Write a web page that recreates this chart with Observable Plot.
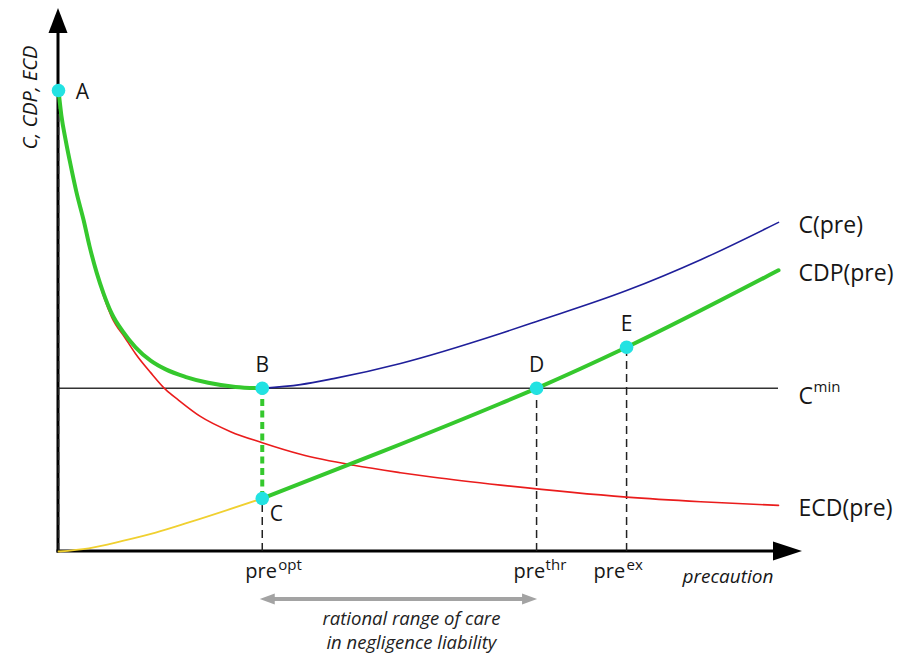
<!DOCTYPE html>
<html><head><meta charset="utf-8">
<script src="https://cdn.jsdelivr.net/npm/d3@7"></script>
<script src="https://cdn.jsdelivr.net/npm/@observablehq/plot@0.6"></script>
<style>
html,body{margin:0;padding:0;background:#fff;}
#chart svg{display:block;}
</style></head><body><div id="chart"></div>
<script>
// ---- key values (arbitrary units: precaution 0..100, cost 0..100) ----
const cMin = 35.4;
const preOpt = 28.3, preThr = 66.4, preEx = 78.9;

// ECD(pre): expected compensated damage
const ecdX = [0, 0.4, 1.0, 1.7, 2.5, 3.5, 4.3, 5.3, 6.25, 7.4, 9.3, 10.7, 12.8, 14.9, 16.7, 19.7, 23.9, 28.3, 33.6, 41.0, 47.5, 52.1, 61.4, 78.9, 89.2, 100];
const ecdY = [100, 94.6, 89.2, 83.7, 77.9, 71.4, 65.9, 60.3, 55.4, 50.8, 46.2, 42.9, 38.8, 35.1, 32.8, 29.3, 26.0, 23.6, 21.1, 18.7, 17.1, 16.1, 14.4, 11.8, 10.8, 10.0];

// C(pre): total cost (right of optimum)
const cX = [28.3, 33.6, 38.2, 47.5, 61.4, 66.4, 78.9, 89.2, 100];
const cY = [35.4, 36.2, 37.5, 40.8, 47.3, 49.9, 56.6, 63.3, 71.4];

// CDP(pre): left branch (A -> B)
const cdpLeftX = [0, 0.4, 1.0, 1.7, 2.5, 3.5, 4.3, 5.3, 6.25, 7.4, 8.9, 10.7, 12.8, 14.9, 17.6, 20.8, 24.6, 28.3];
const cdpLeftY = [100, 94.6, 89.2, 83.7, 77.9, 71.8, 66.3, 60.5, 56.0, 51.6, 47.8, 44.3, 41.4, 39.5, 37.9, 36.6, 35.7, 35.4];

// CDP(pre): right branch (C -> end)
const cdpRightX = [28.3, 45.0, 61.4, 66.4, 78.9, 100];
const cdpRightY = [11.5, 21.7, 32.1, 35.4, 44.3, 61.0];

// cost of precaution below optimum (yellow)
const lowX = [0, 4.2, 8.9, 13.5, 18.1, 28.3];
const lowY = [0, 0.7, 2.3, 4.1, 6.3, 11.5];

// marked points
const pointLabels = ["A", "B", "C", "D", "E"];
const pointX = [0, preOpt, preOpt, preThr, preEx];
const pointY = [100, cMin, 11.5, cMin, 44.3];

// texts
const curveLabels = ["C(pre)", "CDP(pre)", "ECD(pre)"];
const curveLabelY = [cY[cY.length - 1], cdpRightY[cdpRightY.length - 1], ecdY[ecdY.length - 1]];
const tickX = [preOpt, preThr, preEx];
const tickSup = ["opt", "thr", "ex"];
const xLabel = "precaution";
const yLabel = "C, CDP, ECD";
const rangeLines = ["rational range of care", "in negligence liability"];

const tbl = (xs, ys) => xs.map((x, i) => ({x, y: ys[i]}));

// colours
const GREEN = "#35c82d", BLUE = "#1f1f9a", RED = "#ea1c1c", YELLOW = "#f0d030", CYAN = "#22e2e2";
const INK = "#161616";
const FONT = "'Open Sans', sans-serif";

// layout offsets for the "pre" tick labels (base start / superscript start, px from tick)
const baseShift = [-17, -23, -33];
const supShift = [16, 9, 0];

function ornaments(index, scales) {
  const x0 = scales.x(0), y0 = scales.y(0);
  const g = d3.create("svg:g");
  g.append("line").attr("x1", x0).attr("x2", x0).attr("y1", y0 + 1.5).attr("y2", 28)
    .attr("stroke", "#000").attr("stroke-width", 3);
  g.append("path").attr("d", `M${x0},8L${x0 - 9.5},33L${x0 + 9.5},33Z`).attr("fill", "#000");
  g.append("line").attr("x1", x0 - 1.5).attr("x2", 780).attr("y1", y0).attr("y2", y0)
    .attr("stroke", "#000").attr("stroke-width", 3);
  g.append("path").attr("d", `M802,${y0}L773,${y0 - 9.5}L773,${y0 + 9.5}Z`).attr("fill", "#000");
  return g.node();
}

function rangeArrow(index, scales) {
  const xa = scales.x(preOpt) - 2, xb = scales.x(preThr) + 1, ya = scales.y(0) + 48;
  const g = d3.create("svg:g").attr("fill", "#a3a3a3").attr("stroke", "none");
  g.append("line").attr("x1", xa + 10).attr("x2", xb - 10).attr("y1", ya).attr("y2", ya)
    .attr("stroke", "#a3a3a3").attr("stroke-width", 4);
  g.append("path").attr("d", `M${xa},${ya}L${xa + 15},${ya - 5.5}L${xa + 15},${ya + 5.5}Z`);
  g.append("path").attr("d", `M${xb},${ya}L${xb - 15},${ya - 5.5}L${xb - 15},${ya + 5.5}Z`);
  return g.node();
}

const marks = [
  ornaments,
  Plot.ruleY([cMin], {x1: 0, x2: 100, stroke: "#333", strokeWidth: 1.5}),
  Plot.ruleX([0, 2, 3, 4], {x: i => pointX[i], y1: 0, y2: i => pointY[i], stroke: "#222", strokeWidth: 1.5, strokeDasharray: "8,5"}),
  Plot.line(tbl(ecdX, ecdY), {x: "x", y: "y", stroke: RED, strokeWidth: 1.6, curve: "monotone-x"}),
  Plot.line(tbl(lowX, lowY), {x: "x", y: "y", stroke: YELLOW, strokeWidth: 1.8, curve: "monotone-x"}),
  Plot.line(tbl(cX, cY), {x: "x", y: "y", stroke: BLUE, strokeWidth: 1.6, curve: "monotone-x"}),
  Plot.ruleX([preOpt], {y1: pointY[2], y2: cMin, stroke: GREEN, strokeWidth: 4, strokeDasharray: "7,4.5"}),
  Plot.line(tbl(cdpLeftX, cdpLeftY), {x: "x", y: "y", stroke: GREEN, strokeWidth: 4, curve: "monotone-x"}),
  Plot.line(tbl(cdpRightX, cdpRightY), {x: "x", y: "y", stroke: GREEN, strokeWidth: 4, curve: "monotone-x"}),
  Plot.dot(pointLabels, {x: (d, i) => pointX[i], y: (d, i) => pointY[i], r: 6.8, fill: CYAN, stroke: "none"}),
  Plot.text([0], {x: i => pointX[i], y: i => pointY[i], text: i => pointLabels[i], dx: 24, dy: 2, fontSize: 21, fill: INK}),
  Plot.text([1, 3, 4], {x: i => pointX[i], y: i => pointY[i], text: i => pointLabels[i], dy: -23, fontSize: 21, fill: INK}),
  Plot.text([2], {x: i => pointX[i], y: i => pointY[i], text: i => pointLabels[i], dx: 14, dy: 16, fontSize: 21, fill: INK}),
  Plot.text(curveLabels, {x: () => 100, y: (d, i) => curveLabelY[i], text: d => d, dx: 20, dy: 3, textAnchor: "start", fontSize: 23, fill: INK}),
  Plot.text(["C"], {x: () => 100, y: () => cMin, text: d => d, dx: 20, dy: 8, textAnchor: "start", fontSize: 23, fill: INK}),
  Plot.text(["min"], {x: () => 100, y: () => cMin, text: d => d, dx: 35, dy: 4, textAnchor: "start", lineAnchor: "bottom", fontSize: 15, fill: INK}),
  Plot.text([xLabel], {x: () => 100, y: () => 0, text: d => d, dx: -5, dy: 31, textAnchor: "end", lineAnchor: "bottom", fontSize: 19, fontStyle: "italic", fill: INK}),
  Plot.text([yLabel], {frameAnchor: "top-left", text: d => d, dx: -36, dy: 7, rotate: -90, textAnchor: "middle", fontSize: 20, fontStyle: "italic", fill: INK}),
  rangeArrow,
  Plot.text([rangeLines[0]], {x: () => (preOpt + preThr) / 2, y: () => 0, text: d => d, dx: 12, dy: 73, lineAnchor: "bottom", fontSize: 18.5, fontStyle: "italic", fill: "#222"}),
  Plot.text([rangeLines[1]], {x: () => (preOpt + preThr) / 2, y: () => 0, text: d => d, dx: 12, dy: 97, lineAnchor: "bottom", fontSize: 18.5, fontStyle: "italic", fill: "#222"})
];

tickX.forEach((tx, i) => {
  marks.push(Plot.text(["pre"], {x: () => tx, y: () => 0, text: d => d, dx: baseShift[i], dy: 26, textAnchor: "start", lineAnchor: "bottom", fontSize: 20, fill: INK}));
  marks.push(Plot.text([tickSup[i]], {x: () => tx, y: () => 0, text: d => d, dx: supShift[i], dy: 18, textAnchor: "start", lineAnchor: "bottom", fontSize: 15, fill: INK}));
});

const chart = Plot.plot({
  width: 902, height: 653,
  marginLeft: 58, marginRight: 124, marginTop: 90, marginBottom: 102,
  x: {domain: [0, 100], axis: null},
  y: {domain: [0, 100], axis: null},
  style: {fontFamily: FONT, background: "#fff", overflow: "visible"},
  marks
});
document.getElementById("chart").appendChild(chart);
</script>
</body></html>
